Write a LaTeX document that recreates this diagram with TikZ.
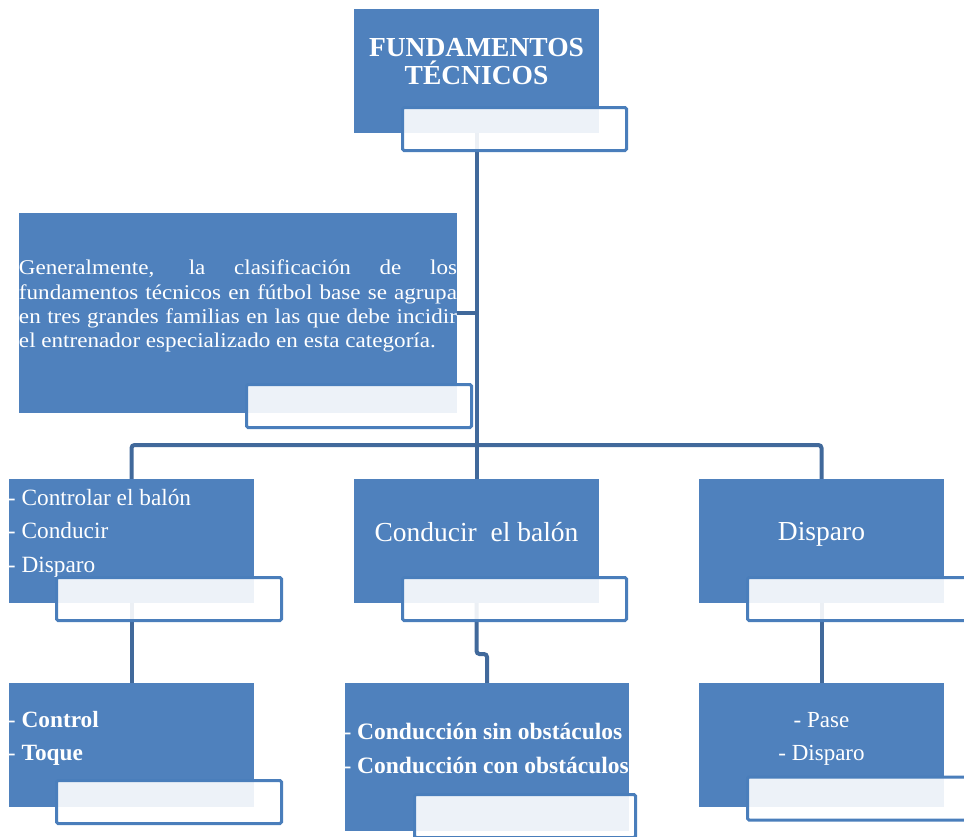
\documentclass[tikz,border=0pt]{standalone}
\usepackage{fontspec}
\usetikzlibrary{backgrounds}
\setmainfont{Liberation Serif}
\newfontfamily\parfont{Liberation Serif}[FakeStretch=1.1]
\definecolor{boxblue}{HTML}{4F81BD}
\definecolor{lblblue}{HTML}{4A7EBB}
\definecolor{connblue}{HTML}{41699B}
\tikzset{
  mainbox/.style={fill=boxblue, draw=none, anchor=north west, inner sep=0pt, outer sep=0pt},
  labelbox/.style={fill=white, fill opacity=0.9, draw=lblblue, line width=3pt, rounded corners=1.5pt, anchor=north west, inner sep=0pt, outer sep=0pt},
  conn/.style={draw=connblue, line width=4pt, rounded corners=3pt},
  txt/.style={text=white, inner sep=0pt, outer sep=0pt},
  szl/.style={font=\fontsize{23.3}{26}\selectfont},
  sz23/.style={font=\fontsize{23}{27}\selectfont},
  szm/.style={font=\fontsize{23.5}{27}\selectfont},
  sz27/.style={font=\fontsize{27.5}{30}\selectfont},
  ttl/.style={font=\bfseries\fontsize{27.5}{28}\selectfont},
}
\begin{document}
\begin{tikzpicture}[x=1pt,y=-1pt]
\useasboundingbox (0,0) rectangle (964,836);
\clip (0,0) rectangle (964,836);
% main boxes
\node[mainbox, minimum width=245pt, minimum height=124pt] (top) at (354,9) {};
\node[mainbox, minimum width=438pt, minimum height=200pt] (para) at (19,213) {};
\node[mainbox, minimum width=245pt, minimum height=124pt] (b1) at (9,479) {};
\node[mainbox, minimum width=245pt, minimum height=124pt] (b2) at (354,479) {};
\node[mainbox, minimum width=245pt, minimum height=124pt] (b3) at (699,479) {};
\node[mainbox, minimum width=245pt, minimum height=124pt] (c1) at (9,683) {};
\node[mainbox, minimum width=284pt, minimum height=148pt] (c2) at (345,683) {};
\node[mainbox, minimum width=245pt, minimum height=124pt] (c3) at (699,683) {};
% connectors (behind boxes)
\coordinate (j) at (476.5,445);
\coordinate (jog) at (487,654);
\begin{scope}[on background layer]
  \draw[conn] (top.center) -- (j);
  \draw[conn] (top.center |- para.east) -- (para.east);
  \draw[conn] (b1.north) -- (b1.north |- j) -- (b3.north |- j) -- (b3.north);
  \draw[conn] (j) -- (b2.north);
  \draw[conn] (b1.center) -- (c1.north);
  \draw[conn] (b2.center) |- (c2.north |- jog) -- (c2.north);
  \draw[conn] (b3.center) -- (c3.north);
\end{scope}
% texts
\node[txt, ttl, anchor=base] (t1) at (476.5,56) {FUNDAMENTOS};
\node[txt, ttl, anchor=base] (t2) at (476.5,84) {TÉCNICOS};
\node[txt, anchor=north west, text width=438pt, align=justify,
      font=\parfont\fontsize{21}{24.3}\selectfont] (ptxt) at (19,260)
  {\sloppy Generalmente, la clasificación de los\linebreak fundamentos técnicos en fútbol base se agrupa\linebreak en tres grandes familias en las que debe incidir\linebreak el entrenador especializado en esta categoría.};
\node[txt, szl, anchor=base west] (l1) at (8,505) {- Controlar el balón};
\node[txt, szl, anchor=base west] (l2) at (8,538.5) {- Conducir};
\node[txt, szl, anchor=base west] (l3) at (8,572) {- Disparo};
\node[txt, sz27, anchor=base] (m1) at (476.5,541) {Conducir\ \ el balón};
\node[txt, sz27, anchor=base] (r1) at (821.5,540) {Disparo};
\node[txt, szl, anchor=base west] (cl1) at (8,727) {- \textbf{Control}};
\node[txt, szl, anchor=base west] (cl2) at (8,760) {- \textbf{Toque}};
\node[txt, szm, anchor=base west] (cm1) at (343.5,739) {- \textbf{Conducción sin obstáculos}};
\node[txt, szm, anchor=base west] (cm2) at (343.5,773) {- \textbf{Conducción con obstáculos}};
\node[txt, sz23, anchor=base] (cr1) at (821.5,727) {- Pase};
\node[txt, sz23, anchor=base] (cr2) at (821.5,760) {- Disparo};
% label boxes
\node[labelbox, minimum width=224pt, minimum height=43pt] (topL) at (402.5,107.5) {};
\node[labelbox, minimum width=225pt, minimum height=43pt] (paraL) at (246.5,384.5) {};
\node[labelbox, minimum width=225pt, minimum height=43pt] (b1L) at (56.5,577.5) {};
\node[labelbox, minimum width=224pt, minimum height=43pt] (b2L) at (402.5,577.5) {};
\node[labelbox, minimum width=224pt, minimum height=43pt] (b3L) at (747.5,577.5) {};
\node[labelbox, minimum width=225pt, minimum height=43pt] (c1L) at (56.5,780.5) {};
\node[labelbox, minimum width=221pt, minimum height=43pt] (c2L) at (414.5,794.5) {};
\node[labelbox, minimum width=224pt, minimum height=43pt] (c3L) at (747.5,777) {};
\end{tikzpicture}
\end{document}
